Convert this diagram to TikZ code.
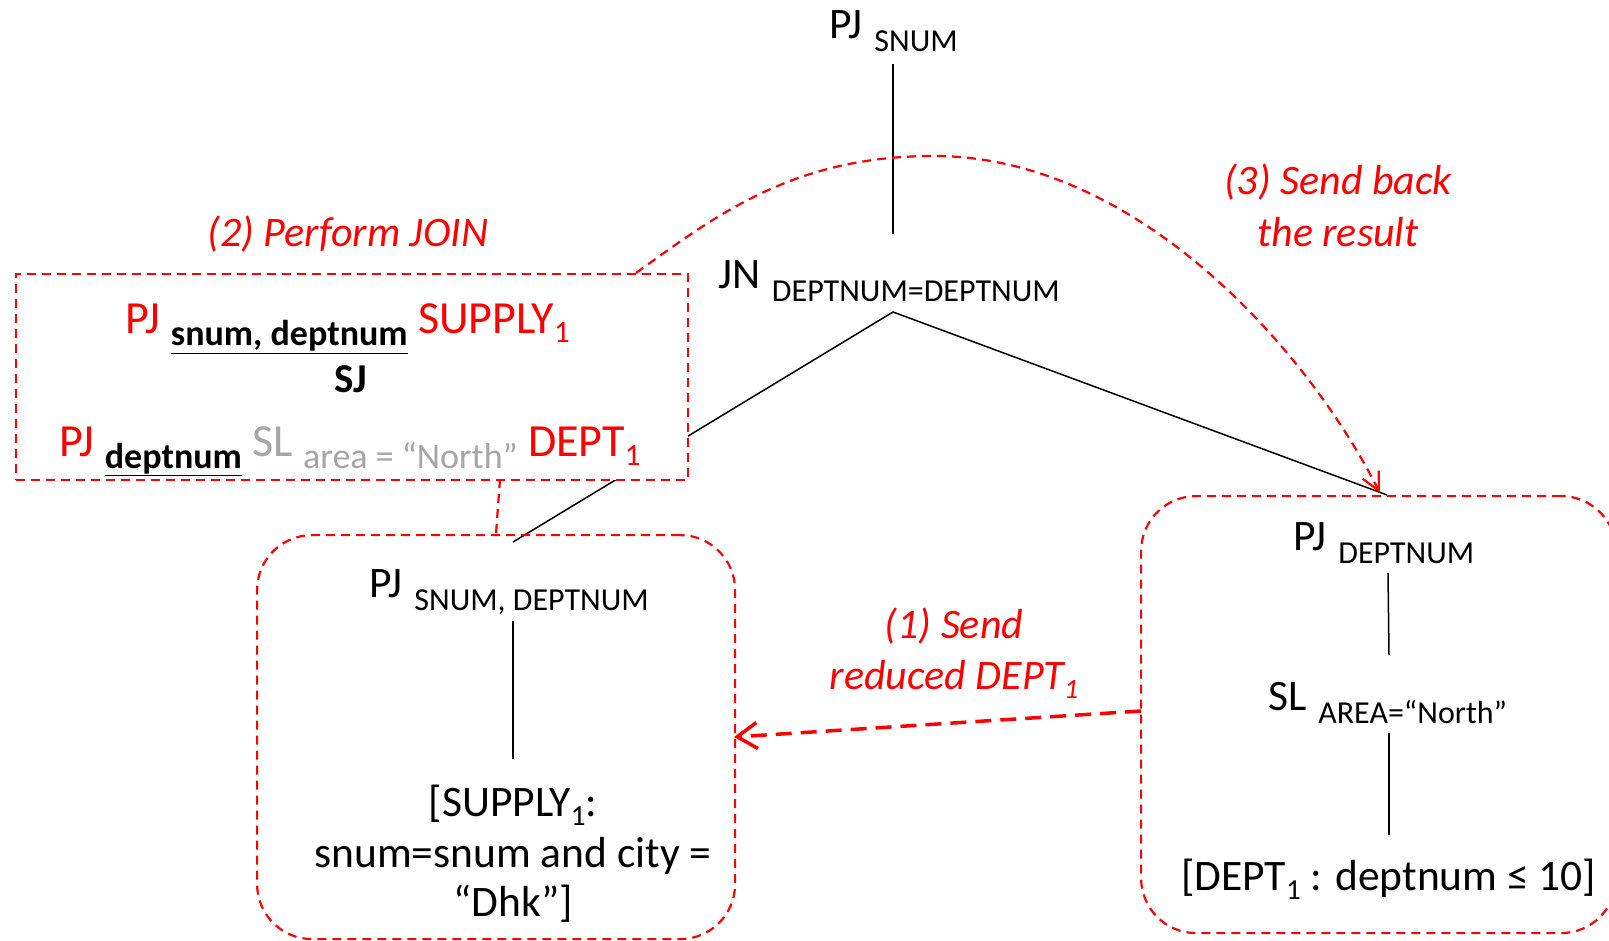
\documentclass[tikz,border=0pt]{standalone}
\usepackage{fontspec}
\setmainfont{Carlito}
\usetikzlibrary{arrows.meta}
\definecolor{rd}{RGB}{255,0,0}
\definecolor{gy}{RGB}{166,166,166}
\newcommand{\fs}[1]{\fontsize{#1}{#1}\selectfont}
\newcommand{\mysub}[1]{\hspace{2pt}\raisebox{-13pt}{\fs{32}#1}}
\newcommand{\myidx}[1]{\raisebox{-9pt}{\fs{29}#1}}
\begin{document}
\begin{tikzpicture}[x=1pt,y=-1pt,
  txt/.style={inner sep=0pt, font=\fs{43.5}},
  rdash/.style={draw=rd, line width=2.2pt, dash pattern=on 9pt off 6pt},
  rbox/.style={rdash, rounded corners=55pt, inner sep=0pt, anchor=north west},
  blk/.style={line width=1.5pt},
  lbl/.style={inner sep=0pt, font=\fs{42}\itshape, text=rd, anchor=base},
  jtxt/.style={inner sep=0pt, font=\fs{46}, text=rd},
]
\useasboundingbox (0,0) rectangle (1609,941);
\clip (0,0) rectangle (1609,941);
\fill[white] (0,0) rectangle (1609,941);

% coordinates
\coordinate (t1) at (893,64);
\coordinate (t2) at (893,234);
\coordinate (apex) at (893,312);
\coordinate (lend) at (513,542);
\coordinate (rend) at (1387,495);

% top tree
\node[txt, anchor=base west] (pjtop) at (829,39) {PJ \mysub{SNUM}};
\node[txt, anchor=base west] (jn) at (718,289) {JN \mysub{DEPTNUM=DEPTNUM}};
\draw[blk] (t1) -- (t2);
\draw[blk] (lend) -- (apex) -- (rend);

% join box
\node[rdash, fill=white, inner sep=0pt, minimum width=672pt, minimum height=206pt, anchor=north west] (joinbox) at (15,273) {};
\node[jtxt, anchor=base west] (j1) at (125,334) {PJ \raisebox{-12pt}{\fs{36}\bfseries\color{black}\underline{snum, deptnum}} SUPPLY\raisebox{-9pt}{\fs{31}1}};
\node[inner sep=0pt, anchor=base, font=\fs{41}\bfseries] (sj) at (351,392) {SJ};
\node[jtxt, anchor=base west] (j3) at (59,456) {PJ \raisebox{-12pt}{\fs{36}\bfseries\color{black}\underline{deptnum}} {\color{gy}SL \raisebox{-12pt}{\fs{36}area = “North”}} DEPT\raisebox{-9pt}{\fs{31}1}};
\node[lbl] (lab2) at (348,247) {(2) Perform JOIN};

% left box
\node[rbox, minimum width=478pt, minimum height=404pt] (lbox) at (256,534) {};
\coordinate (s1) at (500,479);
\coordinate (s2) at (496,534);
\draw[rdash] (s1) -- (s2);
\node[txt, anchor=base west] (lpj) at (369,597) {PJ \mysub{SNUM, DEPTNUM}};
\coordinate (l1) at (513,621);
\coordinate (l2) at (513,759);
\draw[blk] (l1) -- (l2);
\node[txt, anchor=base] (sup1) at (513,816) {[SUPPLY\myidx{1}:};
\node[txt, anchor=base] (sup2) at (513,867) {snum=snum and city =};
\node[txt, anchor=base] (sup3) at (513,916) {“Dhk”]};

% right box
\node[rbox, minimum width=475pt, minimum height=437pt] (rbox) at (1140,495) {};
\node[txt, anchor=base west] (rpj) at (1293,550) {PJ \mysub{DEPTNUM}};
\coordinate (r1) at (1388,573);
\coordinate (r2) at (1389,655);
\draw[blk] (r1) -- (r2);
\node[txt, anchor=base west] (rsl) at (1268,710) {SL \mysub{AREA=“North”}};
\coordinate (r3) at (1389,733);
\coordinate (r4) at (1389,835);
\draw[blk] (r3) -- (r4);
\node[txt, anchor=base west] (rdept) at (1181,890) {[DEPT\myidx{1} : deptnum ≤ 10]};

% arrow 1
\coordinate (a1) at (1141,711);
\coordinate (a2) at (734,737);
\draw[rd, line width=3.5pt, dash pattern=on 16pt off 9pt, -{Straight Barb[length=20pt,width=26pt]}] (a1) -- (a2);
\node[lbl] (lab1a) at (954,638) {(1) Send};
\node[lbl] (lab1b) at (954,689) {reduced DEPT\raisebox{-9pt}{\fs{28}1}};

% arc 3
\coordinate (c3s) at (636,273);
\coordinate (c3p) at (934,156);
\coordinate (c3e) at (1380,493);
\draw[rdash, -{Straight Barb[length=18pt,width=18pt]}] (c3s) .. controls (718,214) and (794,156) .. (c3p) .. controls (1134,156) and (1305,345) .. (c3e);
\node[lbl] (lab3a) at (1338,195) {(3) Send back};
\node[lbl] (lab3b) at (1338,247) {the result};
\end{tikzpicture}
\end{document}
